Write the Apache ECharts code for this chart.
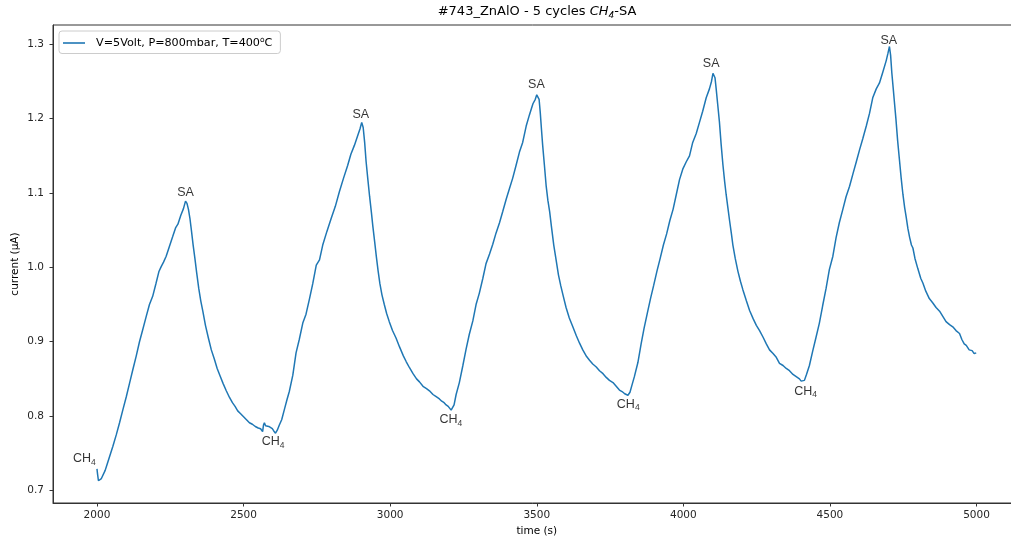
<!DOCTYPE html>
<html>
<head>
<meta charset="utf-8">
<script src="https://cdn.jsdelivr.net/npm/echarts@6/dist/echarts.min.js"></script>
<style>
  html, body { margin: 0; padding: 0; background: #ffffff; }
  #chart { width: 1011px; height: 543px; }
</style>
</head>
<body>
<div id="chart"></div>
<script>
// Sensor current during five CH4 / synthetic-air cycles
const timeS = [
  2000, 2002, 2005, 2010, 2015, 2020, 2028, 2036, 2045, 2054, 2066, 2077, 2088, 2100, 2111, 2122, 2134, 2145, 2156, 2168,
  2179, 2190, 2201, 2211, 2219, 2227, 2236, 2247, 2258, 2268, 2276, 2286, 2295, 2302,
  2307, 2312, 2317, 2322, 2328, 2334, 2340, 2347, 2354, 2361, 2370, 2380, 2390, 2400, 2410, 2420, 2430, 2441, 2452, 2462,
  2471, 2480, 2490, 2500, 2510, 2520, 2530, 2540, 2550, 2558, 2565, 2568, 2571, 2575, 2580, 2586, 2592, 2598, 2603, 2609,
  2615, 2622, 2630, 2640, 2648, 2656, 2668, 2679, 2690, 2702, 2713, 2725, 2736, 2748, 2759, 2770, 2784, 2799, 2813, 2827,
  2841, 2855, 2866, 2878, 2890, 2897, 2903,
  2908, 2913, 2918, 2924, 2930, 2936, 2941, 2947, 2953, 2959, 2965, 2972, 2980, 2988, 2997, 3008, 3020, 3032, 3045, 3055,
  3066, 3078, 3090, 3100, 3112, 3124, 3134, 3146, 3157, 3168, 3176, 3184, 3191, 3198, 3203, 3208, 3212,
  3218, 3225, 3236, 3248, 3259, 3270, 3282, 3293, 3304, 3316, 3327, 3339, 3350, 3361, 3373, 3384, 3396, 3407, 3418, 3430,
  3441, 3452, 3464, 3475, 3487, 3495, 3500, 3504,
  3508, 3512, 3516, 3520, 3526, 3532, 3538, 3544, 3550, 3558, 3566, 3574, 3582, 3590, 3600, 3611, 3623, 3635, 3646, 3657,
  3670, 3680, 3691, 3703, 3714, 3726, 3737, 3748, 3760, 3771, 3782, 3791, 3800, 3806, 3811,
  3818, 3825, 3833, 3845, 3856, 3866, 3877, 3888, 3899, 3910, 3921, 3932, 3943, 3954, 3965, 3976, 3987, 3998, 4010, 4021,
  4032, 4044, 4055, 4066, 4078, 4089, 4096, 4101, 4104,
  4108, 4112, 4117, 4123, 4129, 4135, 4141, 4146, 4152, 4158, 4164, 4169, 4177, 4186, 4195, 4203, 4215, 4226, 4238, 4249,
  4260, 4272, 4283, 4294, 4306, 4317, 4328, 4340, 4351, 4362, 4374, 4385, 4396, 4402, 4408, 4413,
  4420, 4430, 4441, 4452, 4464, 4475, 4487, 4498, 4510, 4521, 4532, 4544, 4555, 4567, 4578, 4590, 4601, 4612, 4624, 4635,
  4646, 4658, 4669, 4680, 4692, 4698, 4703,
  4707, 4711, 4716, 4720, 4725, 4731, 4737, 4743, 4749, 4755, 4760, 4766, 4772, 4778, 4783, 4790, 4800, 4810, 4817, 4827,
  4839, 4851, 4862, 4874, 4885, 4896, 4908, 4919, 4930, 4942, 4950, 4958, 4965, 4975, 4985, 4992, 4999
];
const currentUA = [
  0.729, 0.722, 0.713, 0.714, 0.716, 0.718, 0.727, 0.737, 0.748, 0.759, 0.775, 0.791, 0.808, 0.826, 0.844, 0.862, 0.881, 0.900, 0.916, 0.934,
  0.950, 0.961, 0.978, 0.994, 1.001, 1.007, 1.015, 1.028, 1.041, 1.053, 1.058, 1.070, 1.079, 1.089,
  1.086, 1.078, 1.066, 1.050, 1.030, 1.012, 0.993, 0.972, 0.955, 0.941, 0.922, 0.905, 0.889, 0.877, 0.864, 0.854, 0.844, 0.834, 0.825, 0.818,
  0.813, 0.807, 0.803, 0.799, 0.795, 0.791, 0.789, 0.786, 0.784, 0.783, 0.779, 0.788, 0.791, 0.787, 0.788, 0.786, 0.785, 0.783, 0.780, 0.777,
  0.781, 0.788, 0.795, 0.810, 0.822, 0.833, 0.855, 0.885, 0.903, 0.925, 0.937, 0.958, 0.978, 1.003, 1.010, 1.030, 1.048, 1.066, 1.082, 1.102,
  1.120, 1.137, 1.152, 1.164, 1.178, 1.186, 1.195,
  1.188, 1.168, 1.142, 1.118, 1.095, 1.074, 1.055, 1.035, 1.014, 0.995, 0.978, 0.963, 0.950, 0.938, 0.927, 0.915, 0.905, 0.893, 0.881, 0.873,
  0.865, 0.857, 0.850, 0.846, 0.840, 0.837, 0.834, 0.829, 0.826, 0.823, 0.820, 0.818, 0.815, 0.813, 0.811, 0.808, 0.810,
  0.815, 0.829, 0.845, 0.868, 0.890, 0.910, 0.928, 0.950, 0.965, 0.985, 1.005, 1.018, 1.031, 1.046, 1.060, 1.075, 1.092, 1.106, 1.120, 1.138,
  1.155, 1.168, 1.190, 1.205, 1.220, 1.226, 1.232, 1.234,
  1.226, 1.208, 1.186, 1.165, 1.138, 1.110, 1.090, 1.075, 1.055, 1.030, 1.010, 0.990, 0.975, 0.962, 0.946, 0.932, 0.920, 0.908, 0.898, 0.889,
  0.880, 0.875, 0.870, 0.866, 0.861, 0.857, 0.852, 0.848, 0.845, 0.840, 0.835, 0.833, 0.830, 0.828, 0.828,
  0.832, 0.842, 0.853, 0.872, 0.897, 0.918, 0.938, 0.958, 0.976, 0.995, 1.012, 1.030, 1.045, 1.063, 1.078, 1.098, 1.118, 1.132, 1.142, 1.150,
  1.168, 1.180, 1.195, 1.210, 1.228, 1.240, 1.250, 1.261, 1.262,
  1.255, 1.240, 1.220, 1.196, 1.165, 1.138, 1.115, 1.098, 1.080, 1.062, 1.045, 1.030, 1.012, 0.995, 0.981, 0.970, 0.955, 0.942, 0.931, 0.922,
  0.915, 0.906, 0.897, 0.889, 0.884, 0.879, 0.871, 0.868, 0.864, 0.861, 0.856, 0.853, 0.850, 0.847, 0.846, 0.848,
  0.856, 0.868, 0.887, 0.905, 0.925, 0.948, 0.972, 0.997, 1.015, 1.040, 1.060, 1.078, 1.095, 1.109, 1.125, 1.142, 1.158, 1.173, 1.190, 1.207,
  1.228, 1.240, 1.248, 1.262, 1.278, 1.288, 1.297,
  1.285, 1.262, 1.240, 1.222, 1.200, 1.170, 1.145, 1.120, 1.098, 1.080, 1.068, 1.052, 1.040, 1.030, 1.026, 1.012, 0.998, 0.985, 0.979, 0.968,
  0.958, 0.952, 0.946, 0.941, 0.934, 0.927, 0.923, 0.920, 0.915, 0.911, 0.903, 0.897, 0.895, 0.889, 0.888, 0.884, 0.885
];

// Axis ticks
const xTicks = [2000, 2500, 3000, 3500, 4000, 4500, 5000];
const yTicks = [0.7, 0.8, 0.9, 1.0, 1.1, 1.2, 1.3];

// Gas switching annotations (data coordinates of the label centres)
const noteTime    = [1957, 2302, 2601, 2900, 3207, 3499, 3812, 4095, 4417, 4701];
const noteCurrent = [0.7426, 1.1008, 0.7655, 1.2056, 0.7950, 1.2457, 0.8156, 1.2735, 0.8336, 1.3051];
const noteGas     = ['CH4', 'SA', 'CH4', 'SA', 'CH4', 'SA', 'CH4', 'SA', 'CH4', 'SA'];

const seriesName = 'V=5Volt, P=800mbar, T=400°C';
const tickFont = { fontFamily: 'DejaVu Sans', fontSize: 10.5, color: '#262626' };

const chart = echarts.init(document.getElementById('chart'), null, { renderer: 'canvas' });

chart.setOption({
  animation: false,
  backgroundColor: '#ffffff',
  title: {
    text: '{n|#743_ZnAlO - 5 cycles }{i|CH}{s|4}{n|-SA}',
    left: 537,
    top: 4,
    padding: 0,
    textAlign: 'center',
    textStyle: {
      fontWeight: 'normal',
      rich: {
        n: { fontFamily: 'DejaVu Sans', fontWeight: 'normal', fontSize: 13, color: '#000', lineHeight: 16 },
        i: { fontFamily: 'DejaVu Sans', fontWeight: 'normal', fontStyle: 'italic', fontSize: 13, color: '#000', lineHeight: 16 },
        s: { fontFamily: 'DejaVu Sans', fontWeight: 'normal', fontStyle: 'italic', fontSize: 9, color: '#000', lineHeight: 11, padding: [7, 0, 0, 0] }
      }
    }
  },
  legend: {
    data: [seriesName],
    left: 59,
    top: 31,
    padding: [5, 8, 5, 4],
    icon: 'rect',
    itemWidth: 22,
    itemHeight: 1.6,
    backgroundColor: 'rgba(255,255,255,0.8)',
    borderColor: '#cccccc',
    borderWidth: 1,
    borderRadius: 3,
    formatter: () => 'V=5Volt, P=800mbar, T=400{sup|o}C',
    textStyle: {
      fontFamily: 'DejaVu Sans',
      fontSize: 11.2,
      color: '#000',
      padding: [0, 0, 0, 6],
      rich: {
        sup: { fontFamily: 'DejaVu Sans', fontSize: 7.5, color: '#000', padding: [0, 0, 6, 0] }
      }
    }
  },
  grid: {
    left: 53,
    top: 25,
    width: 967.5,
    height: 478,
    outerBoundsMode: 'none',
    show: true,
    borderColor: '#333333',
    borderWidth: 1,
    backgroundColor: 'transparent',
    containLabel: false
  },
  xAxis: {
    type: 'value',
    min: 1850,
    max: 5150,
    name: 'time (s)',
    nameLocation: 'middle',
    nameGap: 23,
    nameMoveOverlap: false,
    nameTextStyle: { fontFamily: 'DejaVu Sans', fontSize: 10.5, color: '#000' },
    axisLine: { show: true, lineStyle: { color: '#333333', width: 1 } },
    axisTick: { show: true, length: 3.5, customValues: xTicks, lineStyle: { color: '#333333' } },
    axisLabel: Object.assign({ customValues: xTicks, margin: 7, formatter: v => String(v) }, tickFont),
    splitLine: { show: false }
  },
  yAxis: {
    type: 'value',
    min: 0.6831,
    max: 1.3259,
    name: 'current (μA)',
    nameLocation: 'middle',
    nameGap: 32,
    nameMoveOverlap: false,
    nameTextStyle: { fontFamily: 'DejaVu Sans', fontSize: 10.5, color: '#000' },
    axisLine: { show: true, lineStyle: { color: '#333333', width: 1 } },
    axisTick: { show: true, length: 3.5, customValues: yTicks, lineStyle: { color: '#333333' } },
    axisLabel: Object.assign({ customValues: yTicks, margin: 9, formatter: v => v.toFixed(1) }, tickFont),
    splitLine: { show: false }
  },
  series: [
    {
      name: seriesName,
      type: 'line',
      symbol: 'none',
      showSymbol: false,
      color: '#1f77b4',
      lineStyle: { color: '#1f77b4', width: 1.5 },
      data: timeS.map((t, i) => [t, currentUA[i]]),
      z: 3
    },
    {
      name: 'gas',
      type: 'scatter',
      symbolSize: 0,
      clip: false,
      silent: true,
      data: noteTime.map((t, i) => [t, noteCurrent[i]]),
      label: {
        show: true,
        position: 'inside',
        formatter: p => noteGas[p.dataIndex] === 'SA' ? '{c|SA}' : '{c|CH}{s|4}',
        rich: {
          c: { fontFamily: 'Liberation Sans', fontSize: 12.5, color: '#000', lineHeight: 14 },
          s: { fontFamily: 'Liberation Sans', fontSize: 8.5, color: '#000', lineHeight: 10, padding: [7, 0, 0, 0] }
        }
      },
      z: 4
    }
  ]
});
</script>
</body>
</html>
